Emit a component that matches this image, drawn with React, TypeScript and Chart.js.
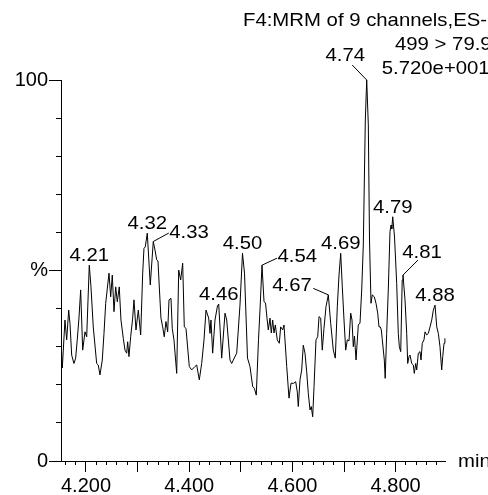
import React, { useEffect, useRef } from "react";
import { Chart, registerables } from "chart.js";

Chart.register(...registerables);

// Retention time (min) of each scan of channel 499 > 79.9
const TIMES = [
  4.1525, 4.1541, 4.1593, 4.1626, 4.1665, 4.169, 4.1723, 4.1767, 4.18, 4.1831,
  4.1864, 4.1897, 4.1936, 4.1981, 4.2014, 4.2064, 4.2097, 4.2141, 4.2207, 4.2238,
  4.2271, 4.2316, 4.2349, 4.2382, 4.2446, 4.2479, 4.251, 4.2543, 4.2576, 4.2607,
  4.2645, 4.2678, 4.2723, 4.2756, 4.2789, 4.2808, 4.2833, 4.2866, 4.2905, 4.293,
  4.2969, 4.3014, 4.306, 4.3099, 4.3124, 4.3149, 4.3188, 4.3246, 4.3304, 4.3337,
  4.337, 4.3395, 4.3434, 4.3453, 4.3486, 4.3517, 4.355, 4.3583, 4.3609, 4.3647,
  4.3672, 4.3705, 4.3758, 4.3797, 4.3835, 4.3874, 4.3905, 4.3938, 4.4002, 4.4048,
  4.4112, 4.4145, 4.4196, 4.4242, 4.4287, 4.4326, 4.4378, 4.4403, 4.4422, 4.4455,
  4.45, 4.4548, 4.4572, 4.463, 4.4694, 4.4727, 4.4791, 4.4824, 4.4855, 4.4921,
  4.4984, 4.5033, 4.5072, 4.513, 4.5178, 4.5231, 4.5262, 4.53, 4.5343, 4.5372,
  4.5411, 4.545, 4.5479, 4.5508, 4.5533, 4.5566, 4.5591, 4.5618, 4.5643, 4.5669,
  4.5707, 4.5746, 4.5773, 4.5812, 4.5837, 4.589, 4.5934, 4.5973, 4.6025, 4.6064,
  4.6095, 4.6114, 4.6147, 4.618, 4.6211, 4.6244, 4.6277, 4.6308, 4.6341, 4.6366,
  4.6393, 4.6419, 4.6457, 4.649, 4.6516, 4.6548, 4.6579, 4.6612, 4.6651, 4.6696,
  4.6742, 4.6793, 4.6831, 4.687, 4.6903, 4.6936, 4.6967, 4.7, 4.7033, 4.7064,
  4.7097, 4.713, 4.7155, 4.718, 4.7203, 4.7233, 4.7277, 4.731, 4.7343, 4.7374,
  4.7413, 4.744, 4.7471, 4.7494, 4.7523, 4.7548, 4.7587, 4.762, 4.7653, 4.7678,
  4.7703, 4.7723, 4.7742, 4.7781, 4.7798, 4.7827, 4.7858, 4.7891, 4.7911, 4.7926,
  4.7944, 4.7979, 4.8021, 4.8052, 4.8072, 4.8099, 4.8128, 4.8143, 4.8182, 4.8215,
  4.8234, 4.826, 4.8279, 4.8312, 4.8343, 4.8362, 4.839, 4.8409, 4.844, 4.8473,
  4.8492, 4.8517, 4.855, 4.857, 4.8603, 4.8634, 4.8667, 4.87, 4.8731, 4.8764,
  4.8797, 4.8828, 4.886, 4.8893, 4.8913, 4.8938, 4.8955,
];

// Relative intensity (%) of each scan
const INTENSITY = [
  29.1, 24.4, 37.0, 31.8, 39.6, 36.1, 27.8, 25.6, 27.0, 31.8,
  37.5, 44.9, 29.1, 33.9, 32.6, 51.4, 45.7, 35.2, 25.6, 25.2,
  22.6, 26.5, 33.5, 41.4, 49.3, 43.1, 48.8, 39.2, 45.7, 41.8,
  45.7, 37.0, 32.2, 29.1, 28.3, 31.3, 27.4, 32.6, 37.5, 42.3,
  34.4, 39.6, 33.1, 49.3, 55.8, 56.2, 59.8, 46.2, 57.6, 55.4,
  52.8, 52.5, 42.3, 37.5, 35.2, 32.6, 36.6, 33.9, 42.3, 42.7,
  34.8, 31.8, 23.0, 50.1, 47.5, 51.9, 35.2, 34.8, 24.8, 23.9,
  24.8, 25.2, 21.3, 25.6, 31.8, 39.6, 37.5, 33.5, 37.0, 28.3,
  37.0, 40.7, 41.2, 27.0, 38.8, 37.0, 26.5, 25.6, 26.5, 28.3,
  40.9, 54.5, 49.3, 27.0, 24.8, 19.5, 19.1, 17.3, 31.8, 39.6,
  51.4, 41.8, 41.5, 37.5, 34.4, 37.5, 33.6, 37.0, 33.6, 35.7,
  31.8, 30.9, 35.2, 34.4, 35.7, 24.8, 16.5, 20.4, 20.4, 20.8,
  18.1, 14.3, 21.3, 23.9, 30.4, 28.3, 23.4, 17.8, 13.4, 14.3,
  11.6, 19.5, 31.8, 32.6, 37.9, 37.5, 29.1, 34.8, 40.5, 43.6,
  36.1, 29.1, 27.0, 40.5, 48.8, 54.5, 45.7, 37.0, 29.1, 31.8,
  31.5, 38.8, 37.0, 30.0, 32.8, 26.5, 35.7, 36.2, 44.9, 56.7,
  89.5, 100.0, 88.2, 58.0, 41.4, 43.6, 43.1, 41.4, 38.8, 35.2,
  35.2, 34.4, 31.8, 26.5, 21.7, 33.5, 44.9, 60.2, 61.9, 60.9,
  64.1, 58.8, 46.6, 33.5, 30.0, 28.7, 47.5, 48.8, 42.3, 33.5,
  25.6, 27.4, 27.8, 25.6, 25.2, 23.0, 25.6, 23.9, 28.3, 28.7,
  26.5, 30.9, 31.8, 33.9, 33.1, 33.5, 35.2, 37.0, 39.6, 40.9,
  35.2, 33.5, 30.0, 23.9, 27.4, 30.9, 32.2,
];

// Apex retention times printed above the peaks
const PEAK_LABELS = [4.21, 4.32, 4.33, 4.46, 4.5, 4.54, 4.67, 4.69, 4.74, 4.79, 4.81, 4.88];

// Axis range and tick text
const X_MIN = 4.1516;
const X_MAX = 4.8957;
const X_TICK_LABELS = ["4.200", "4.400", "4.600", "4.800"];
const Y_TICK_VALUES = [0, 50, 100];
const Y_TICK_TEXT = ["0", "%", "100"];

// Header text block
const HEADER_LINES = ["F4:MRM of 9 channels,ES-", "499 > 79.9", "5.720e+001"];
const X_UNIT = "min";

const FONT = '"Liberation Sans", Arial, Helvetica, sans-serif';
const TEXT_STRETCH = 1.07;

type Placement = { dx: number; dy: number; align: "left" | "right" | "center"; tx: number; ty: number };

// Peaks whose label sits at the end of a short leader line
const LEADERS: Record<string, Placement> = {
  "4.33": { dx: 15.5, dy: -8.5, align: "left", tx: 0.5, ty: 5 },
  "4.54": { dx: 15, dy: -7, align: "left", tx: 0.5, ty: 3.5 },
  "4.67": { dx: -15, dy: -6.5, align: "right", tx: -1.5, ty: 2.5 },
  "4.74": { dx: -14.5, dy: -15, align: "center", tx: -7, ty: -4 },
  "4.81": { dx: 15, dy: -15, align: "center", tx: 4, ty: -1.8 },
};
const DEFAULT_PLACEMENT: Placement = { dx: 0, dy: 0, align: "center", tx: 0, ty: -4 };

function findPeakIndex(label: number): number {
  let best = -1;
  for (let i = 0; i < TIMES.length; i++) {
    if (Math.abs(TIMES[i] - label) <= 0.005 && (best < 0 || INTENSITY[i] > INTENSITY[best])) best = i;
  }
  return best;
}

function drawStretched(ctx: CanvasRenderingContext2D, text: string, x: number, y: number, align: string) {
  const w = ctx.measureText(text).width * TEXT_STRETCH;
  const left = align === "left" ? x : align === "right" ? x - w : x - w / 2;
  ctx.save();
  ctx.translate(left, y);
  ctx.scale(TEXT_STRETCH, 1);
  ctx.textAlign = "left";
  ctx.textBaseline = "alphabetic";
  ctx.fillText(text, 0, 0);
  ctx.restore();
}

const annotationPlugin = {
  id: "peakAnnotations",
  afterDatasetsDraw(chart: any) {
    const ctx: CanvasRenderingContext2D = chart.ctx;
    const xs = chart.scales.x;
    const ys = chart.scales.y;
    ctx.save();
    ctx.fillStyle = "#000";
    ctx.strokeStyle = "#000";
    ctx.lineWidth = 1;
    ctx.font = `19px ${FONT}`;

    PEAK_LABELS.forEach((label) => {
      const i = findPeakIndex(label);
      if (i < 0) return;
      const text = label.toFixed(2);
      const px = xs.getPixelForValue(TIMES[i]);
      const py = ys.getPixelForValue(INTENSITY[i]);
      const p = LEADERS[text] || DEFAULT_PLACEMENT;
      const ex = px + p.dx;
      const ey = py + p.dy;
      if (p.dx !== 0 || p.dy !== 0) {
        ctx.beginPath();
        ctx.moveTo(px, py);
        ctx.lineTo(ex, ey);
        ctx.stroke();
      }
      drawStretched(ctx, text, ex + p.tx, ey + p.ty, p.align);
    });

    // header block, top right
    drawStretched(ctx, HEADER_LINES[0], 243, 26, "left");
    drawStretched(ctx, HEADER_LINES[1], 395, 50, "left");
    drawStretched(ctx, HEADER_LINES[2], 381.7, 74, "left");

    // time unit after the end of the x axis
    drawStretched(ctx, X_UNIT, xs.right + 13, ys.bottom + 6, "left");
    ctx.restore();
  },
};

export default function App() {
  const canvasRef = useRef<HTMLCanvasElement | null>(null);

  useEffect(() => {
    const canvas = canvasRef.current;
    if (!canvas) return;

    const fixHeight = (h: number) => (s: any) => {
      s.height = h;
    };
    const fixWidth = (w: number) => (s: any) => {
      s.width = w;
    };

    const chart = new Chart(canvas, {
      type: "line",
      data: {
        datasets: [
          {
            data: TIMES.map((t, i) => ({ x: t, y: INTENSITY[i] })),
            borderColor: "#000",
            borderWidth: 1,
            pointRadius: 0,
            tension: 0,
            fill: false,
            clip: false as any,
            xAxisID: "x",
            yAxisID: "y",
          },
        ],
      },
      options: {
        animation: false,
        responsive: false,
        events: [],
        layout: { padding: { left: 0, top: 80, right: 43, bottom: 0 } },
        plugins: {
          legend: { display: false },
          tooltip: { enabled: false },
          title: { display: false },
        },
        scales: {
          // minor time ticks every 0.02 min, with the axis line
          x: {
            type: "linear",
            position: "bottom",
            weight: 0,
            min: X_MIN,
            max: X_MAX,
            afterFit: fixHeight(0),
            grid: { drawOnChartArea: false, drawTicks: true, tickLength: 4, color: "#000", tickColor: "#000" },
            border: { display: true, color: "#000", width: 1 },
            ticks: { display: false, stepSize: 0.02, includeBounds: false },
          },
          // major time ticks every 0.1 min, labelled every 0.2 min
          x2: {
            type: "linear",
            position: "bottom",
            weight: 1,
            min: X_MIN,
            max: X_MAX,
            afterFit: fixHeight(34),
            grid: { drawOnChartArea: false, drawTicks: true, tickLength: 11, color: "#000", tickColor: "#000" },
            border: { display: false },
            ticks: {
              stepSize: 0.1,
              includeBounds: false,
              autoSkip: false,
              maxRotation: 0,
              minRotation: 0,
              padding: 2,
              color: "#000",
              font: { family: FONT, size: 20 },
              callback: (v: any) => {
                const s = Number(v).toFixed(3);
                return X_TICK_LABELS.includes(s) ? s : "";
              },
            },
          },
          // minor intensity ticks every 10 %, with the axis line
          y: {
            type: "linear",
            position: "left",
            weight: 0,
            min: 0,
            max: 100,
            afterFit: fixWidth(0),
            grid: { drawOnChartArea: false, drawTicks: true, tickLength: 5, color: "#000", tickColor: "#000" },
            border: { display: true, color: "#000", width: 1 },
            ticks: { display: false, stepSize: 10 },
          },
          // long ticks at 0, 50 and 100 %
          y2: {
            type: "linear",
            position: "left",
            weight: 1,
            min: 0,
            max: 100,
            afterFit: fixWidth(61),
            grid: { drawOnChartArea: false, drawTicks: true, tickLength: 12, color: "#000", tickColor: "#000" },
            border: { display: false },
            ticks: {
              stepSize: 50,
              padding: 1,
              color: "#000",
              font: { family: FONT, size: 20 },
              callback: (v: any) => {
                const k = Y_TICK_VALUES.indexOf(Number(v));
                return k >= 0 ? Y_TICK_TEXT[k] : "";
              },
            },
          },
        },
      } as any,
      plugins: [annotationPlugin],
    });

    return () => chart.destroy();
  }, []);

  return (
    <div style={{ position: "fixed", left: 0, top: 0, width: 488, height: 495, background: "#fff" }}>
      <canvas ref={canvasRef} width={488} height={495} style={{ display: "block", width: 488, height: 495 }} />
    </div>
  );
}
